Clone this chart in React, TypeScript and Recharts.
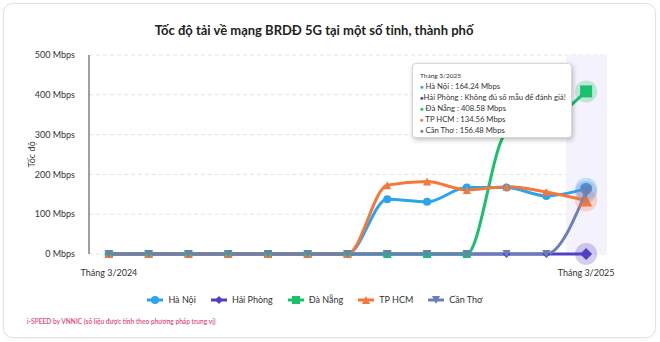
import {
  LineChart,
  Line,
  XAxis,
  YAxis,
  CartesianGrid,
  Tooltip,
  Legend,
  ReferenceArea,
} from 'recharts'

// Tốc độ tải về 5G theo tháng (Mbps), 3/2024 -> 3/2025
const months = [
  'Tháng 3/2024',
  'Tháng 4/2024',
  'Tháng 5/2024',
  'Tháng 6/2024',
  'Tháng 7/2024',
  'Tháng 8/2024',
  'Tháng 9/2024',
  'Tháng 10/2024',
  'Tháng 11/2024',
  'Tháng 12/2024',
  'Tháng 1/2025',
  'Tháng 2/2025',
  'Tháng 3/2025',
]
const haNoi = [0, 0, 0, 0, 0, 0, 0, 137.5, 131, 167, 167, 146, 164.24]
const haiPhong = [0, 0, 0, 0, 0, 0, 0, 0, 0, 0, 0, 0, 0]
const daNang = [0, 0, 0, 0, 0, 0, 0, 0, 0, 0, 305, 330, 408.58]
const tpHcm = [0, 0, 0, 0, 0, 0, 0, 173, 182, 161, 169, 156, 134.56]
const canTho = [0, 0, 0, 0, 0, 0, 0, 0, 0, 0, 0, 0, 156.48]

const yTicks = [0, 100, 200, 300, 400, 500]
const gridTicks = [1, 2, 3, 4, 5, 6, 7, 8, 9, 10, 11, 12]
const labelTicks = [0.5, 12.5]
const activeIdx = 12

type Shape = 'circle' | 'diamond' | 'square' | 'triangle' | 'triangle-down'

const series: { key: string; name: string; color: string; shape: Shape }[] = [
  { key: 'haNoi', name: 'Hà Nội', color: '#2ba4f0', shape: 'circle' },
  { key: 'haiPhong', name: 'Hải Phòng', color: '#5140c4', shape: 'diamond' },
  { key: 'daNang', name: 'Đà Nẵng', color: '#19c16b', shape: 'square' },
  { key: 'tpHcm', name: 'TP HCM', color: '#f7773a', shape: 'triangle' },
  { key: 'canTho', name: 'Cần Thơ', color: '#6a7fb8', shape: 'triangle-down' },
]

const data = months.map((m, i) => ({
  month: m,
  pos: i + 0.5,
  haNoi: haNoi[i],
  haiPhong: haiPhong[i],
  daNang: daNang[i],
  tpHcm: tpHcm[i],
  canTho: canTho[i],
}))

const FONT = 'Lato, "Open Sans", sans-serif'

function Marker({ cx, cy, shape, color, s }: { cx: number; cy: number; shape: Shape; color: string; s: number }) {
  if (cx == null || cy == null) return null
  switch (shape) {
    case 'circle':
      return <circle cx={cx} cy={cy} r={s} fill={color} />
    case 'square':
      return <rect x={cx - s} y={cy - s} width={s * 2} height={s * 2} fill={color} />
    case 'diamond':
      return <path d={`M${cx} ${cy - s}L${cx + s} ${cy}L${cx} ${cy + s}L${cx - s} ${cy}Z`} fill={color} />
    case 'triangle':
      return <path d={`M${cx} ${cy - s}L${cx + s} ${cy + s}L${cx - s} ${cy + s}Z`} fill={color} />
    default:
      return <path d={`M${cx - s} ${cy - s}L${cx + s} ${cy - s}L${cx} ${cy + s}Z`} fill={color} />
  }
}

// tooltip kiểu highcharts
function Tip({ active, payload }: any) {
  if (!active || !payload?.length) return null
  const month = payload[0].payload.month
  return (
    <div
      style={{
        background: '#fff',
        border: '1px solid #d6d6d6',
        borderRadius: 4,
        boxShadow: '1px 2px 5px rgba(0,0,0,0.25)',
        padding: '7px 7px',
        width: 160,
        height: 75,
        boxSizing: 'border-box',
        fontFamily: FONT,
        color: '#333',
      }}
    >
      <div style={{ fontSize: 6.5, lineHeight: '9px', marginBottom: 1 }}>{month}</div>
      {payload.map((p: any) => (
        <div key={p.dataKey} style={{ fontSize: 7.7, lineHeight: '10px', whiteSpace: 'nowrap' }}>
          <span style={{ color: p.color, fontSize: 6 }}>●</span>
          {p.value > 0 ? ' ' : ''}
          {p.name} : {p.value > 0 ? `${p.value} Mbps` : 'Không đủ số mẫu để đánh giá!'}
        </div>
      ))}
    </div>
  )
}

function LegendBox() {
  return (
    <div style={{ display: 'flex', justifyContent: 'center', gap: 15, fontFamily: FONT }}>
      {series.map(s => (
        <div key={s.key} style={{ display: 'flex', alignItems: 'center', gap: 5 }}>
          <svg width={16} height={10}>
            <line x1={0} x2={16} y1={5} y2={5} stroke={s.color} strokeWidth={3} />
            <Marker cx={8} cy={5} shape={s.shape} color={s.color} s={4} />
          </svg>
          <span style={{ fontSize: 9, color: '#333' }}>{s.name}</span>
        </div>
      ))}
    </div>
  )
}

export default function App() {
  return (
    <div style={{ position: 'absolute', left: 0, top: 0, width: 660, height: 342, background: '#fff' }}>
      <div
        style={{
          position: 'absolute',
          left: 3,
          top: 3,
          width: 653,
          height: 335,
          boxSizing: 'border-box',
          border: '1px solid #e2e2e2',
          borderRadius: 10,
          boxShadow: '0 1px 3px rgba(0,0,0,0.06)',
        }}
      />
      <div
        style={{
          position: 'absolute',
          left: 0,
          top: 22,
          width: 628,
          textAlign: 'center',
          fontFamily: FONT,
          fontWeight: 700,
          fontSize: 13,
          color: '#222',
        }}
      >
        Tốc độ tải về mạng BRDĐ 5G tại một số tỉnh, thành phố
      </div>
      <div style={{ position: 'absolute', left: 0, top: 0 }}>
        <LineChart width={660} height={342} data={data} margin={{ top: 55, right: 54, bottom: 68, left: 0 }}>
          <ReferenceArea x1={12} x2={13} fill="#f4f2fd" fillOpacity={1} stroke="none" />
          <CartesianGrid vertical={false} stroke="#e3e3e3" strokeDasharray="4 3" />
          <CartesianGrid horizontal={false} stroke="#ebebeb" />
          <XAxis
            type="number"
            dataKey="pos"
            domain={[0, 13]}
            ticks={gridTicks}
            height={0}
            tick={false}
            tickLine={false}
            axisLine={{ stroke: '#4a4a4a' }}
          />
          <XAxis
            xAxisId="lbl"
            type="number"
            dataKey="pos"
            domain={[0, 13]}
            ticks={labelTicks}
            height={20}
            tickFormatter={v => months[Math.floor(v)]}
            axisLine={false}
            tickLine={false}
            tickSize={6}
            tickMargin={10}
            tick={{ fontSize: 9, fill: '#333', fontFamily: FONT }}
          />
          <YAxis
            domain={[0, 500]}
            ticks={yTicks}
            width={89}
            tickFormatter={v => `${v} Mbps`}
            axisLine={{ stroke: '#4a4a4a' }}
            tickLine={false}
            tickMargin={8}
            tick={{ fontSize: 9, fill: '#333', fontFamily: FONT }}
            label={(p: any) => (
              <text
                x={p.viewBox.x + 31}
                y={p.viewBox.y + p.viewBox.height / 2}
                transform={`rotate(-90 ${p.viewBox.x + 31} ${p.viewBox.y + p.viewBox.height / 2})`}
                textAnchor="middle"
                dominantBaseline="central"
                fontSize={9}
                fill="#444"
                fontFamily={FONT}
              >
                Tốc độ
              </text>
            )}
          />
          <Tooltip
            defaultIndex={activeIdx}
            active
            cursor={false}
            position={{ x: 412, y: 63 }}
            content={<Tip />}
            isAnimationActive={false}
          />
          <Legend
            verticalAlign="middle"
            align="center"
            layout="horizontal"
            content={<LegendBox />}
            wrapperStyle={{ top: 294, left: 0, width: 630, height: 14 }}
          />
          {series.map(s => (
            <Line
              key={s.key}
              type="monotone"
              dataKey={s.key}
              name={s.name}
              stroke={s.color}
              strokeWidth={3}
              isAnimationActive={false}
              dot={(p: any) => <Marker key={p.index} cx={p.cx} cy={p.cy} shape={s.shape} color={s.color} s={4} />}
              activeDot={(p: any) => (
                <g key={`a${p.index}`}>
                  <circle cx={p.cx} cy={p.cy} r={11} fill={s.color} fillOpacity={0.25} />
                  <Marker cx={p.cx} cy={p.cy} shape={s.shape} color={s.color} s={6} />
                </g>
              )}
            />
          ))}
        </LineChart>
      </div>
      <div
        style={{
          position: 'absolute',
          left: 27,
          top: 317,
          fontFamily: FONT,
          fontSize: 6.6,
          fontWeight: 600,
          color: '#e8467c',
          whiteSpace: 'nowrap',
        }}
      >
        i-SPEED by VNNIC (số liệu được tính theo phương pháp trung vị)
      </div>
    </div>
  )
}
